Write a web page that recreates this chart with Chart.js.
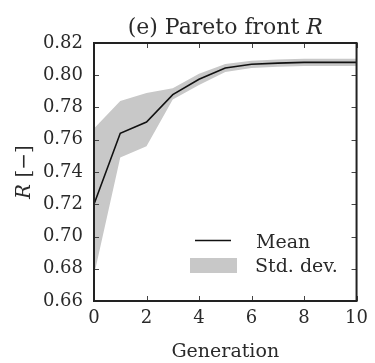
<!DOCTYPE html>
<html>
<head>
<meta charset="utf-8">
<script src="https://cdn.jsdelivr.net/npm/chart.js@4/dist/chart.umd.min.js"></script>
<style>
  html, body { margin: 0; padding: 0; background: #fff; }
  canvas { display: block; }
</style>
</head>
<body>
<canvas id="chart" width="375" height="363"></canvas>
<script>
'use strict'

// Pareto front R over the generations: mean and one standard deviation band
const generations = [0, 1, 2, 3, 4, 5, 6, 7, 8, 9, 10]
const meanR = [0.720, 0.764, 0.771, 0.788, 0.7975, 0.8045, 0.8068, 0.8075, 0.808, 0.808, 0.808]
const upperR = [0.767, 0.784, 0.789, 0.792, 0.801, 0.807, 0.809, 0.8098, 0.8102, 0.8102, 0.8102]
const lowerR = [0.676, 0.749, 0.756, 0.785, 0.794, 0.802, 0.8045, 0.8052, 0.8058, 0.8058, 0.8058]

const FONT = "'DejaVu Serif', 'Liberation Serif', serif"
const TEXT = '#2a2a2a'

const toPoints = (values) => values.map((y, i) => ({ x: generations[i], y }))

// frame, inward ticks on all four sides, title, y label and legend
const decorations = {
  id: 'decorations',
  afterDraw (chart) {
    const { ctx, chartArea: a, scales } = chart
    ctx.save()

    ctx.strokeStyle = '#444'
    ctx.lineWidth = 1
    const len = 5
    ctx.beginPath()
    scales.x.ticks.forEach(t => {
      const px = Math.round(scales.x.getPixelForValue(t.value)) + 0.5
      ctx.moveTo(px, a.bottom); ctx.lineTo(px, a.bottom - len)
      ctx.moveTo(px, a.top); ctx.lineTo(px, a.top + len)
    })
    scales.y.ticks.forEach(t => {
      const py = Math.round(scales.y.getPixelForValue(t.value)) + 0.5
      ctx.moveTo(a.left, py); ctx.lineTo(a.left + len, py)
      ctx.moveTo(a.right, py); ctx.lineTo(a.right - len, py)
    })
    ctx.stroke()

    ctx.strokeStyle = '#222'
    ctx.lineWidth = 2
    ctx.strokeRect(a.left, a.top, a.right - a.left, a.bottom - a.top)

    // title with italic R
    ctx.fillStyle = TEXT
    ctx.textBaseline = 'alphabetic'
    ctx.textAlign = 'left'
    const plain = '(e) Pareto front '
    ctx.font = `22px ${FONT}`
    const w1 = ctx.measureText(plain).width
    ctx.font = `italic 22px ${FONT}`
    const w2 = ctx.measureText('R').width
    let x0 = (a.left + a.right) / 2 - (w1 + w2) / 2
    ctx.font = `22px ${FONT}`
    ctx.fillText(plain, x0, 34)
    ctx.font = `italic 22px ${FONT}`
    ctx.fillText('R', x0 + w1, 34)

    // rotated y label "R [−]"
    ctx.save()
    ctx.translate(30, 172)
    ctx.rotate(-Math.PI / 2)
    ctx.font = `italic 20px ${FONT}`
    const r = ctx.measureText('R ').width
    ctx.font = `20px ${FONT}`
    const rest = ctx.measureText('[\u2212]').width
    x0 = -(r + rest) / 2
    ctx.font = `italic 20px ${FONT}`
    ctx.fillText('R', x0, 0)
    ctx.font = `20px ${FONT}`
    ctx.fillText('[\u2212]', x0 + r, 0)
    ctx.restore()

    // legend in the lower right of the plot area
    const mean = chart.data.datasets[0]
    const band = chart.data.datasets[1]
    ctx.strokeStyle = mean.borderColor
    ctx.lineWidth = mean.borderWidth
    ctx.beginPath()
    ctx.moveTo(195, 240.5); ctx.lineTo(231, 240.5)
    ctx.stroke()
    ctx.fillStyle = band.backgroundColor
    ctx.fillRect(190, 258, 47, 15)
    ctx.fillStyle = TEXT
    ctx.font = `19px ${FONT}`
    ctx.fillText(mean.label, 256, 248)
    ctx.fillText(band.label, 255, 272)

    ctx.restore()
  }
}

new Chart(document.getElementById('chart').getContext('2d'), {
  type: 'line',
  data: {
    datasets: [
      {
        label: 'Mean',
        data: toPoints(meanR),
        borderColor: '#111',
        borderWidth: 1.6,
        pointRadius: 0,
        fill: false
      },
      {
        label: 'Std. dev.',
        data: toPoints(upperR),
        borderWidth: 0,
        pointRadius: 0,
        backgroundColor: 'rgb(200,200,200)',
        fill: '+1'
      },
      {
        label: 'lower',
        data: toPoints(lowerR),
        borderWidth: 0,
        pointRadius: 0,
        fill: false
      }
    ]
  },
  options: {
    responsive: false,
    animation: false,
    devicePixelRatio: 1,
    layout: { padding: { top: 43, right: 13, left: 0, bottom: 0 } },
    plugins: {
      legend: { display: false },
      title: { display: false },
      tooltip: { enabled: false }
    },
    scales: {
      x: {
        type: 'linear',
        min: 0,
        max: 10,
        grid: { display: false, drawTicks: false },
        border: { display: false },
        ticks: { stepSize: 2, color: TEXT, padding: 7, font: { family: FONT, size: 18 } },
        title: {
          display: true,
          text: 'Generation',
          color: TEXT,
          padding: { top: 4, bottom: 0 },
          font: { family: FONT, size: 19 }
        },
        afterFit (scale) { scale.height = 62 }
      },
      y: {
        min: 0.66,
        max: 0.82,
        grid: { display: false, drawTicks: false },
        border: { display: false },
        ticks: {
          stepSize: 0.02,
          color: TEXT,
          padding: 11,
          font: { family: FONT, size: 18 },
          callback: (v) => v.toFixed(2)
        },
        afterFit (scale) { scale.width = 94 }
      }
    }
  },
  plugins: [decorations]
})
</script>
</body>
</html>
